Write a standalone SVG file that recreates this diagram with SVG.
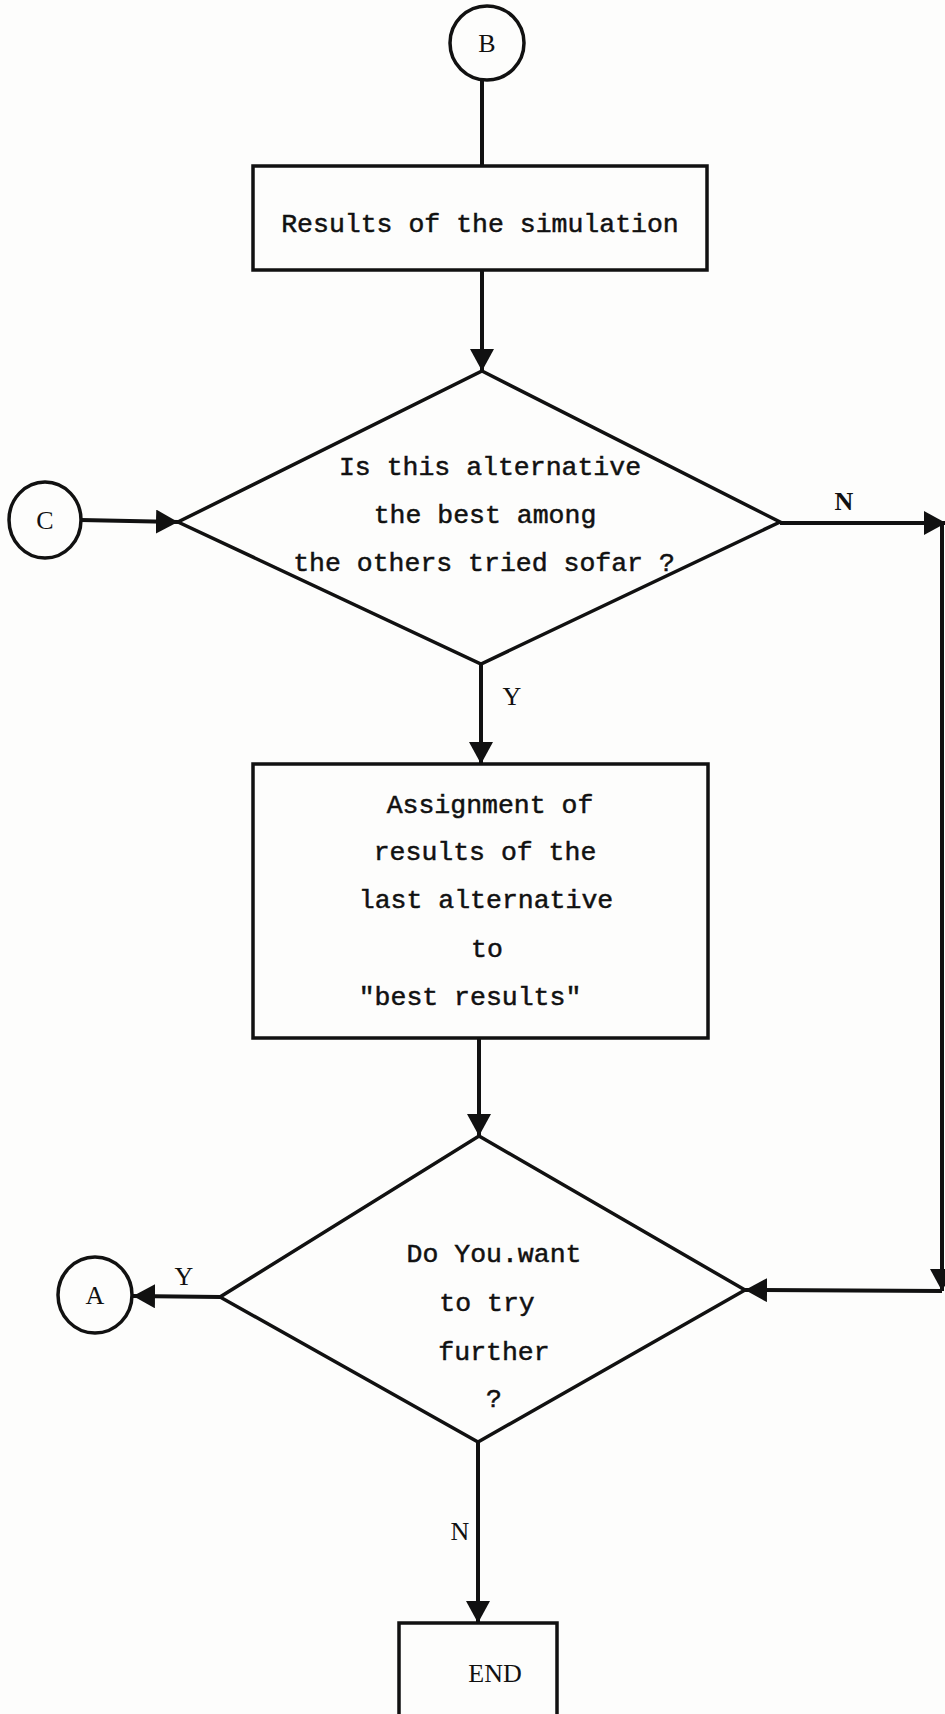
<svg xmlns="http://www.w3.org/2000/svg" width="945" height="1714" viewBox="0 0 945 1714">
  <style>
    .shape { fill: none; stroke: #111; stroke-width: 3.5; }
    .wire { fill: none; stroke: #111; stroke-width: 4; }
    .txt { font-family: "Liberation Mono", "Courier New", monospace; font-size: 26.5px; fill: #111; stroke: #111; stroke-width: 0.5; text-anchor: middle; }
    .lbl { font-family: "Liberation Serif", "Times New Roman", serif; font-size: 26px; fill: #111; text-anchor: middle; }
    .cap { font-family: "Liberation Serif", "Times New Roman", serif; font-size: 26px; fill: #111; text-anchor: middle; }
  </style>
  <defs>
    <marker id="arrow" viewBox="0 0 22 24" refX="22" refY="12" markerWidth="22" markerHeight="24" orient="auto" markerUnits="userSpaceOnUse">
      <path d="M0,0 L22,12 L0,24 Z" fill="#111"/>
    </marker>
  </defs>
  <rect width="945" height="1714" fill="#fdfdfc"/>

  <!-- connector B -->
  <g id="node-B">
    <circle class="shape" cx="487" cy="43" r="37"/>
    <text class="cap" x="487" y="52">B</text>
  </g>

  <g id="node-results">
    <rect class="shape" x="253" y="166" width="454" height="104"/>
    <text class="txt" x="480" y="232">Results of the simulation</text>
  </g>

  <g id="node-best">
    <polygon class="shape" points="482,371 780,522 481,664 178,522"/>
    <text class="txt" x="490" y="475">Is this alternative</text>
    <text class="txt" x="485" y="523">the best among</text>
    <text class="txt" x="484" y="571">the others tried sofar ?</text>
  </g>

  <g id="node-C">
    <ellipse class="shape" cx="45" cy="520" rx="36" ry="38"/>
    <text class="cap" x="45" y="529">C</text>
  </g>

  <g id="node-assign">
    <rect class="shape" x="253" y="764" width="455" height="274"/>
    <text class="txt" x="490" y="813">Assignment of</text>
    <text class="txt" x="485" y="860">results of the</text>
    <text class="txt" x="486" y="908">last alternative</text>
    <text class="txt" x="487" y="957">to</text>
    <text class="txt" x="470" y="1005">"best results"</text>
  </g>

  <g id="node-further">
    <polygon class="shape" points="479,1136 745,1290 478,1442 220,1297"/>
    <text class="txt" x="494" y="1262">Do You.want</text>
    <text class="txt" x="487" y="1311">to try</text>
    <text class="txt" x="494" y="1360">further</text>
    <text class="txt" x="494" y="1407">?</text>
  </g>

  <g id="node-A">
    <ellipse class="shape" cx="95" cy="1295" rx="37" ry="38"/>
    <text class="cap" x="95" y="1304">A</text>
  </g>

  <g id="node-end">
    <polyline class="shape" points="399,1730 399,1623 557,1623 557,1730"/>
    <text class="lbl" x="495" y="1682" font-size="28">END</text>
  </g>

  <g id="connectors">
    <line class="wire" x1="482" y1="80" x2="482" y2="166"/>
    <line class="wire" x1="482" y1="270" x2="482" y2="371" marker-end="url(#arrow)"/>
    <line class="wire" x1="81" y1="520" x2="178" y2="522" marker-end="url(#arrow)"/>
    <line class="wire" x1="780" y1="523" x2="946" y2="523" marker-end="url(#arrow)"/>
    <line class="wire" x1="942" y1="523" x2="942" y2="1291" marker-end="url(#arrow)"/>
    <line class="wire" x1="942" y1="1291" x2="745" y2="1290" marker-end="url(#arrow)"/>
    <line class="wire" x1="481" y1="664" x2="481" y2="764" marker-end="url(#arrow)"/>
    <line class="wire" x1="479" y1="1038" x2="479" y2="1136" marker-end="url(#arrow)"/>
    <line class="wire" x1="220" y1="1297" x2="133" y2="1296" marker-end="url(#arrow)"/>
    <line class="wire" x1="478" y1="1442" x2="478" y2="1623" marker-end="url(#arrow)"/>
    <text class="lbl" x="844" y="510" font-weight="bold">N</text>
    <text class="lbl" x="512" y="705">Y</text>
    <text class="lbl" x="184" y="1285">Y</text>
    <text class="lbl" x="460" y="1540">N</text>
  </g>
</svg>
